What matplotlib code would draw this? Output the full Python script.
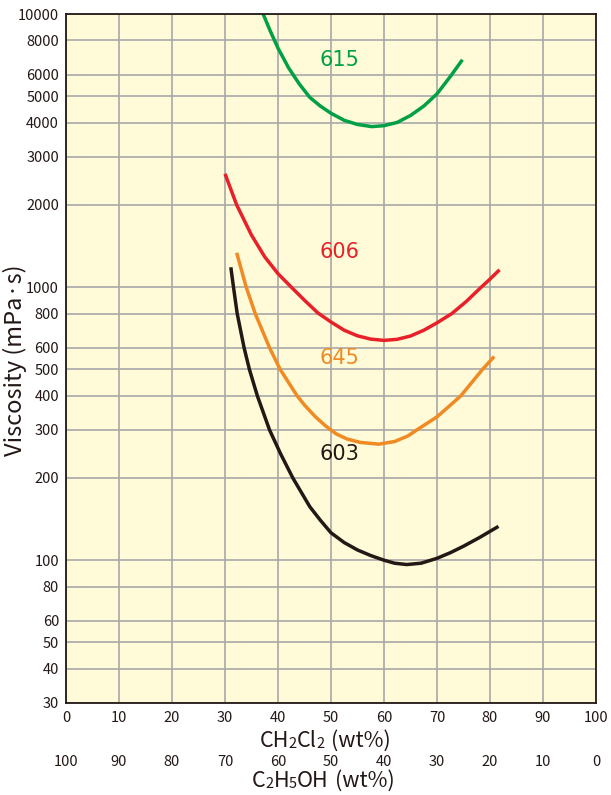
import matplotlib
matplotlib.use("Agg")
import matplotlib.pyplot as plt
from matplotlib.ticker import FixedLocator, NullLocator
from matplotlib.transforms import blended_transform_factory

plt.rcParams['font.family'] = ['Noto Sans CJK JP', 'DejaVu Sans']

# ---- data ----
x615 = [37.2, 38.5, 40.0, 42.0, 44.0, 46.0, 48.0, 50.0, 52.5, 55.0, 57.7, 60.0, 62.5, 65.0, 67.5, 70.0, 72.5, 74.8]
y615 = [10000, 8700, 7500, 6350, 5550, 4950, 4600, 4330, 4080, 3940, 3870, 3900, 4010, 4250, 4600, 5100, 5900, 6800]

x606 = [30.0, 32.2, 35.0, 37.5, 40.0, 42.5, 45.0, 47.5, 50.0, 52.5, 55.0, 57.5, 60.0, 62.5, 65.0, 67.5, 70.0, 72.8, 75.5, 78.0, 80.0, 81.8]
y606 = [2600, 2000, 1550, 1290, 1120, 1000, 895, 805, 745, 695, 663, 645, 638, 644, 662, 695, 740, 800, 885, 985, 1070, 1157]

x645 = [32.2, 34.0, 35.7, 38.4, 40.4, 43.6, 45.0, 47.0, 49.0, 51.0, 53.0, 55.5, 59.0, 62.0, 64.5, 66.2, 68.0, 70.0, 72.0, 74.5, 78.6, 80.8]
y645 = [1336, 1000, 800, 600, 500, 400, 370, 336, 310, 290, 278, 270, 266, 272, 285, 300, 316, 335, 362, 400, 500, 557]

x603 = [31.1, 31.6, 32.3, 33.6, 34.6, 36.1, 38.4, 40.5, 42.8, 46.0, 48.0, 50.0, 52.5, 55.0, 57.5, 60.0, 62.0, 64.3, 67.0, 70.0, 72.5, 75.0, 78.0, 81.6]
y603 = [1182, 1000, 800, 600, 500, 400, 300, 245, 200, 157, 140, 126, 116, 109, 104, 100, 97.5, 96.4, 97.5, 101.6, 106.5, 112.5, 121, 133]

names = ["615", "606", "645", "603"]
label_x = [51.6, 51.6, 51.6, 51.6]
label_y = [6800, 1349, 548, 244]

xticks = [0, 10, 20, 30, 40, 50, 60, 70, 80, 90, 100]
xticks2 = [100, 90, 80, 70, 60, 50, 40, 30, 20, 10, 0]
yticks = [30, 40, 50, 60, 80, 100, 200, 300, 400, 500, 600, 800,
          1000, 2000, 3000, 4000, 5000, 6000, 8000, 10000]

colors = ["#00A047", "#E8202A", "#F08A24", "#231815"]
xs_all = [x615, x606, x645, x603]
ys_all = [y615, y606, y645, y603]

INK = "#231815"

# ---- figure ----
W, H = 611, 795
fig = plt.figure(figsize=(W/100, H/100), dpi=100)
ax = fig.add_axes([66/W, 1-703/H, (596-66)/W, (703-14)/H])
ax.set_facecolor("#FFFAD7")
ax.set_yscale("log")
ax.set_xlim(0, 100)
ax.set_ylim(30, 10000)

ax.xaxis.set_major_locator(FixedLocator(xticks))
ax.yaxis.set_major_locator(FixedLocator(yticks))
ax.yaxis.set_minor_locator(NullLocator())
ax.set_yticklabels([str(v) for v in yticks])
ax.set_xticklabels([str(v) for v in xticks])
ax.tick_params(length=0, labelsize=10.5, colors=INK, pad=5)
ax.tick_params(axis='x', pad=6)
ax.grid(True, color="#A8A8A8", lw=1.2)
ax.set_axisbelow(True)
for s in ax.spines.values():
    s.set_color(INK)
    s.set_linewidth(1.3)

for name, xs, ys, c, lx, ly in zip(names, xs_all, ys_all, colors, label_x, label_y):
    ax.plot(xs, ys, color=c, lw=2.5, solid_capstyle='butt', solid_joinstyle='round')
    ax.text(lx, ly, name, color=c, fontsize=15, ha='center', va='center',
            family='DejaVu Sans')

trans = blended_transform_factory(ax.transData, ax.transAxes)
for xv, lab in zip(xticks, xticks2):
    ax.text(xv, -0.085, str(lab), transform=trans, ha='center', va='center',
            fontsize=10.5, color=INK)

renderer = fig.canvas.get_renderer()


def chem_label(pieces, cx, baseline_y, size=15.5, subsize=10.5, drop=1.5):
    """Place text pieces (text, is_subscript, gap_before_px) centred at cx
    (pixels from left), with the main baseline at baseline_y (pixels from top)."""
    widths = []
    for txt, sub, gap in pieces:
        t = fig.text(0, 0, txt, fontsize=subsize if sub else size)
        widths.append(t.get_window_extent(renderer).width + gap)
        t.remove()
    x = cx - sum(widths) / 2
    for (txt, sub, gap), w in zip(pieces, widths):
        y = baseline_y + (drop if sub else 0)
        fig.text((x + gap) / W, 1 - y / H, txt,
                 fontsize=subsize if sub else size, color=INK,
                 ha='left', va='baseline')
        x += w


chem_label([("CH", False, 0), ("2", True, 0), ("Cl", False, 0), ("2", True, 0),
            ("(wt%)", False, 6)], 325, 747)
chem_label([("C", False, 0), ("2", True, 0), ("H", False, 0), ("5", True, 0),
            ("OH", False, 0), ("(wt%)", False, 6)], 323, 787)

fig.text(15/W, 1-360/H, "Viscosity (mPa·s)", rotation=90, ha='center',
         va='center', fontsize=17, color=INK)

fig.savefig("out.png", dpi=100)
